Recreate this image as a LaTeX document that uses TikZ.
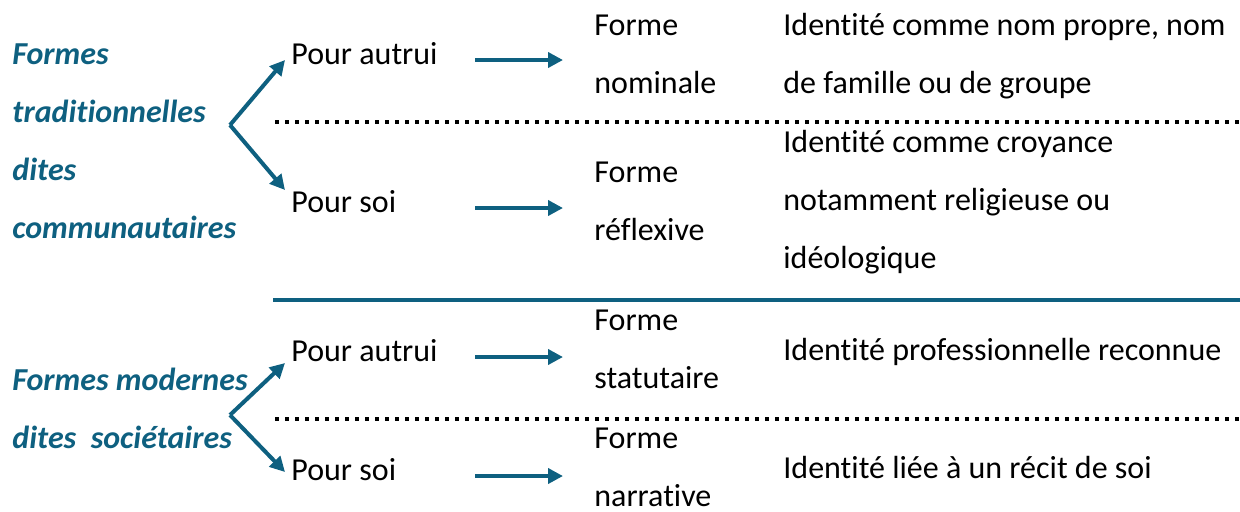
\documentclass[tikz,border=0pt]{standalone}
\usepackage{fontspec}
\setmainfont{Carlito}[Ligatures=NoCommon]
\usetikzlibrary{arrows.meta, positioning}
\definecolor{tealblue}{RGB}{14,96,128}

\begin{document}
\begin{tikzpicture}[x=0.5pt, y=-0.5pt, font=\fontsize{16}{29}\selectfont,
    txt/.style={anchor=base west, inner sep=0pt, align=left},
    title/.style={txt, text=tealblue, font=\fontsize{16}{29}\selectfont\bfseries\itshape},
    branch/.style={draw=tealblue, line width=2pt, -{Triangle[length=7.5pt,width=7.5pt]}},
    dotline/.style={draw=black, line width=1.6pt, dash pattern=on 2pt off 3pt},
    sepline/.style={draw=tealblue, line width=1.6pt}]
    \useasboundingbox (0,0) rectangle (1240,511);
    % left titles (anchored on their last line)
    \node[title] (trad) at (12,238) {Formes\\traditionnelles\\dites\\communautaires};
    \node[title] (mod) at (12,448) {Formes modernes\\dites\ \ sociétaires};
    % second column
    \node[txt] (pa1) at (291,64) {Pour autrui};
    \node[txt] (ps1) at (291,212) {Pour soi};
    \node[txt] (pa2) at (291,361) {Pour autrui};
    \node[txt] (ps2) at (291,480) {Pour soi};
    % forms
    \node[txt] (nom) at (594,93) {Forme\\nominale};
    \node[txt] (refl) at (594,240) {Forme\\réflexive};
    \node[txt] (stat) at (594,388) {Forme\\statutaire};
    \node[txt] (narr) at (594,506) {Forme\\narrative};
    % identities
    \node[txt] (id1) at (783,93) {Identité comme nom propre, nom\\de famille ou de groupe};
    \node[txt] (id2) at (783,268) {Identité comme croyance\\notamment religieuse ou\\idéologique};
    \node[txt] (id3) at (783,360) {Identité professionnelle reconnue};
    \node[txt] (id4) at (783,478) {Identité liée à un récit de soi};
    % branch points
    \coordinate (v1) at (230,125);
    \coordinate (v2) at (230,415);
    \coordinate (t1) at (285,60);
    \coordinate (t2) at (285,190);
    \coordinate (t3) at (285,363);
    \coordinate (t4) at (285,472);
    \draw[branch] (v1) -- (t1);
    \draw[branch] (v1) -- (t2);
    \draw[branch] (v2) -- (t3);
    \draw[branch] (v2) -- (t4);
    % arrows to forms
    \coordinate (col) at (475,0);
    \foreach \a/\b in {pa1/nom, ps1/refl, pa2/stat, ps2/narr}
        \draw[branch, shorten >=15.5pt]
            ([yshift=2pt]\a.base -| col) -- ([yshift=2pt]\a.base -| \b.west);
    % separators
    \coordinate (d1) at (275,122);
    \coordinate (d2) at (275,419);
    \coordinate (s1) at (273,300);
    \draw[dotline] (d1) -- (d1 -| 1240,0);
    \draw[dotline] (d2) -- (d2 -| 1240,0);
    \draw[sepline] (s1) -- (s1 -| 1240,0);
\end{tikzpicture}
\end{document}
